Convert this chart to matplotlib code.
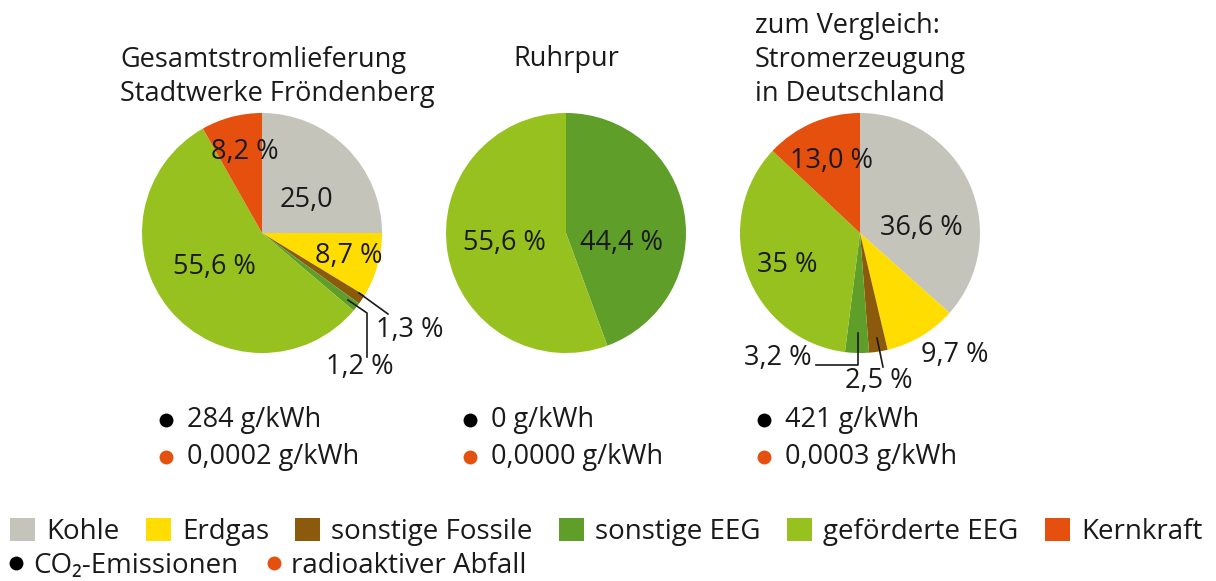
import numpy as np
import matplotlib.pyplot as plt
from matplotlib.patches import Patch
from matplotlib.lines import Line2D

plt.rcParams['font.family'] = ['Open Sans', 'DejaVu Sans']

# --- data ---
categories = ["Kohle", "Erdgas", "sonstige Fossile", "sonstige EEG", "geförderte EEG", "Kernkraft"]
colors = ["#c5c4bb", "#ffdd00", "#8c5a0c", "#5f9e28", "#96c11f", "#e5500f"]

frondenberg = [25.0, 8.7, 1.3, 1.2, 55.6, 8.2]
ruhrpur = [0, 0, 0, 44.4, 55.6, 0]
deutschland = [36.6, 9.7, 2.5, 3.2, 35.0, 13.0]

co2 = ["284 g/kWh", "0 g/kWh", "421 g/kWh"]
waste = ["0,0002 g/kWh", "0,0000 g/kWh", "0,0003 g/kWh"]

TXT = "#1a1a1a"
FS = 19.5
H = 581


def Y(py):
    # pixel row (from top) -> axis y
    return H - py


fig = plt.figure(figsize=(12.16, 5.81), dpi=100)
ax = fig.add_axes([0, 0, 1, 1])

pies = [(frondenberg, 262), (ruhrpur, 566), (deutschland, 860)]
for vals, cx in pies:
    ax.pie(vals, colors=colors, startangle=90, counterclock=False,
           center=(cx, Y(233)), radius=120, frame=True,
           wedgeprops=dict(linewidth=0))
ax.set_xlim(0, 1216)
ax.set_ylim(0, H)
ax.set_aspect("equal")
ax.axis("off")

# --- titles ---
ax.text(120, Y(77), "Gesamtstromlieferung\nStadtwerke Fröndenberg", ha="left", va="center",
        fontsize=FS, color=TXT, linespacing=1.3)
ax.text(566, Y(59), "Ruhrpur", ha="center", va="center", fontsize=FS, color=TXT)
ax.text(755, Y(60), "zum Vergleich:\nStromerzeugung\nin Deutschland", ha="left", va="center",
        fontsize=FS, color=TXT, linespacing=1.3)

# --- slice labels ---
labels = [
    ("8,2 %", 245, 152), ("25,0", 306, 200), ("8,7 %", 349, 256), ("55,6 %", 214, 267),
    ("1,3 %", 410, 330), ("1,2 %", 360, 367),
    ("55,6 %", 504, 243), ("44,4 %", 622, 243),
    ("13,0 %", 832, 161), ("36,6 %", 921, 228), ("35 %", 787, 265),
    ("9,7 %", 955, 355), ("3,2 %", 778, 358), ("2,5 %", 879, 381),
]
for t, x, y in labels:
    ax.text(x, Y(y), t, ha="center", va="center", fontsize=FS, color=TXT)

# leader lines
lw = 1.2
ax.plot([359, 388], [Y(293), Y(314)], color=TXT, lw=lw)
ax.plot([348, 367, 367], [Y(300), Y(313), Y(357)], color=TXT, lw=lw)
ax.plot([858, 858, 816], [Y(333), Y(365), Y(365)], color=TXT, lw=lw)
ax.plot([877, 883], [Y(338), Y(367)], color=TXT, lw=lw)

# --- emissions ---
for (vals, cx), c, w in zip(pies, co2, waste):
    x0 = cx - 96
    ax.plot([x0], [Y(420)], marker="o", ms=10, color="black", mec="none")
    ax.text(x0 + 21, Y(420), c, ha="left", va="center", fontsize=FS, color=TXT)
    ax.plot([x0], [Y(457)], marker="o", ms=10, color=colors[5], mec="none")
    ax.text(x0 + 21, Y(457), w, ha="left", va="center", fontsize=FS, color=TXT)

# --- legend ---
LFS = 20
handles = [Patch(facecolor=col, edgecolor="none") for col in colors]
leg = fig.legend(handles, categories, loc="upper left", bbox_to_anchor=(10 / 1216, 1 - 518 / H),
                 ncol=6, frameon=False, fontsize=LFS, handlelength=0.9, handleheight=0.9,
                 handletextpad=0.4, columnspacing=0.95, borderaxespad=0, borderpad=0)
for t in leg.get_texts():
    t.set_color(TXT)
handles2 = [Line2D([], [], marker="o", ls="none", color="black", mec="none", markersize=10),
            Line2D([], [], marker="o", ls="none", color=colors[5], mec="none", markersize=10)]
leg2 = fig.legend(handles2, ["CO₂-Emissionen", "radioaktiver Abfall"], loc="upper left",
                  bbox_to_anchor=(8 / 1216, 1 - 552 / H), ncol=2, frameon=False, fontsize=LFS,
                  handlelength=0.6, handletextpad=0.3, columnspacing=1.0,
                  borderaxespad=0, borderpad=0)
for t in leg2.get_texts():
    t.set_color(TXT)

fig.savefig("out.png", dpi=100)
